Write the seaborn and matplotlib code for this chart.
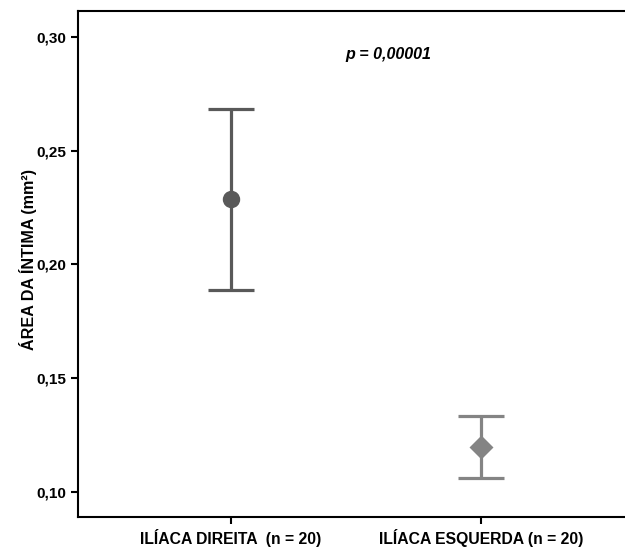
import matplotlib
matplotlib.use('Agg')
import matplotlib.pyplot as plt
import seaborn as sns
import pandas as pd

# Dados (média e limites do intervalo)
categorias = ['ILÍACA DIREITA  (n = 20)', 'ILÍACA ESQUERDA (n = 20)']
medias = [0.2288, 0.1198]
limite_inf = [0.1888, 0.1062]
limite_sup = [0.2684, 0.1334]
cores = ['#595959', '#848484']
marcadores = ['o', 'D']

sns.set_style('white')
plt.rcParams['font.family'] = ['Liberation Sans', 'DejaVu Sans']
plt.rcParams['font.weight'] = 'bold'
plt.rcParams['text.color'] = 'black'
plt.rcParams['axes.labelcolor'] = 'black'

df = pd.DataFrame({'grupo': categorias, 'media': medias})

fig = plt.figure(figsize=(6.25, 5.47), dpi=100)
ax = fig.add_axes([0.1248, 0.0548, 0.8896, 0.9251])

# barras de erro
for i, cat in enumerate(categorias):
    ax.errorbar(i, medias[i],
                yerr=[[medias[i] - limite_inf[i]], [limite_sup[i] - medias[i]]],
                fmt='none', ecolor=cores[i], elinewidth=2.3, capsize=16.5,
                capthick=2.3, zorder=2)

sns.pointplot(data=df, x='grupo', y='media', hue='grupo', palette=cores,
              markers=marcadores, linestyles='none', errorbar=None,
              markersize=10.5, legend=False, ax=ax, zorder=3)

ax.set_xlim(-0.612, 1.612)
ax.set_ylim(0.0889, 0.3114)
ax.set_yticks([0.10, 0.15, 0.20, 0.25, 0.30])
ax.set_yticklabels(['0,10', '0,15', '0,20', '0,25', '0,30'])
ax.set_xlabel('')
ax.set_ylabel('ÁREA DA ÍNTIMA (mm²)', fontsize=11.6, fontweight='bold')
ax.yaxis.set_label_coords(-0.074, 0.508)

for s in ax.spines.values():
    s.set_color('black')
    s.set_linewidth(1.5)
ax.spines['right'].set_visible(False)

ax.tick_params(axis='both', direction='out', length=5, width=1.5,
               colors='black', bottom=True, left=True)
ax.tick_params(axis='y', labelsize=11)
ax.tick_params(axis='x', labelsize=11.3)
for lbl in ax.get_xticklabels() + ax.get_yticklabels():
    lbl.set_fontweight('bold')

ax.text(0.628, 0.2921, 'p = 0,00001', ha='center', va='center',
        fontsize=11.5, fontweight='bold', fontstyle='italic')

fig.savefig('out.png', dpi=100)
